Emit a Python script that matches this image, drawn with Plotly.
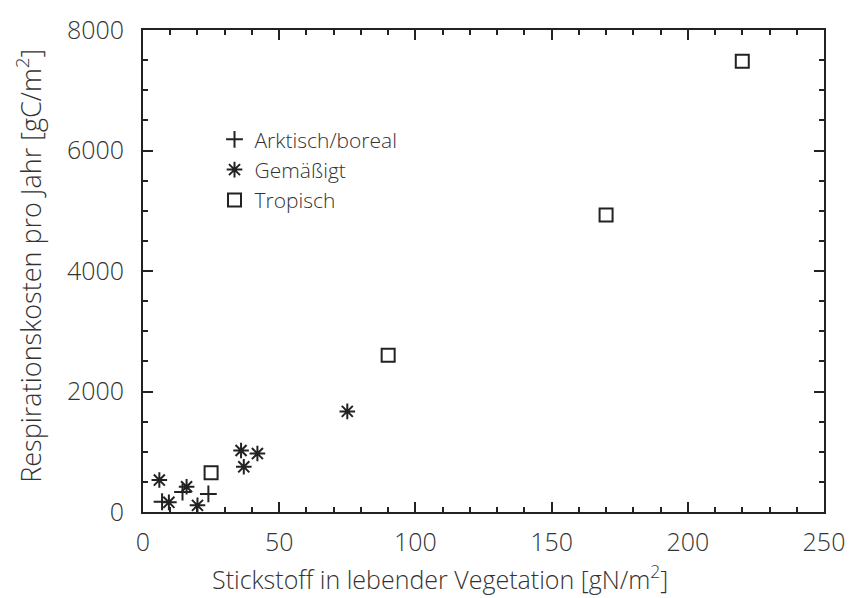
import plotly.graph_objects as go

# Stickstoff in lebender Vegetation [gN/m2] vs. jährliche Respirationskosten [gC/m2]
arktisch_n = [7, 14.5, 24]
arktisch_r = [170, 330, 300]

gemaessigt_n = [6, 9.5, 16, 20, 36, 37, 42, 75]
gemaessigt_r = [530, 160, 420, 110, 1020, 750, 970, 1670]

tropisch_n = [25, 90, 170, 220]
tropisch_r = [650, 2600, 4930, 7480]

x_ticks = [0, 50, 100, 150, 200, 250]
y_ticks = [0, 2000, 4000, 6000, 8000]

x_title = "Stickstoff in lebender Vegetation [gN/m<sup>2</sup>]"
y_title = "Respirationskosten pro Jahr [gC/m<sup>2</sup>]"

FONT = "Open Sans"
WEIGHT = 300
INK = "#222222"
TEXT = "#333333"

fig = go.Figure()
fig.add_trace(go.Scatter(
    x=arktisch_n, y=arktisch_r, mode="markers", name="Arktisch/boreal",
    marker=dict(symbol="cross-thin", size=12, color=INK, line=dict(width=2, color=INK)),
))
fig.add_trace(go.Scatter(
    x=gemaessigt_n, y=gemaessigt_r, mode="markers", name="Gemäßigt",
    marker=dict(symbol="asterisk", size=13, color=INK, line=dict(width=2, color=INK)),
))
fig.add_trace(go.Scatter(
    x=tropisch_n, y=tropisch_r, mode="markers", name="Tropisch",
    marker=dict(symbol="square-open", size=13, color=INK, line=dict(width=2, color=INK)),
))

tick_font = dict(family=FONT, size=25, color=TEXT, weight=WEIGHT)
title_font = dict(family=FONT, size=25, color=TEXT, weight=WEIGHT)

axis_common = dict(
    showgrid=False, zeroline=False, showline=True, linecolor=INK, linewidth=2,
    mirror="ticks", ticks="inside", ticklen=10, tickwidth=2, tickcolor=INK,
    tickfont=tick_font,
)

fig.update_layout(
    width=857, height=598,
    margin=dict(l=143, r=28, t=28, b=86),
    plot_bgcolor="white", paper_bgcolor="white",
    font=dict(family=FONT, color=TEXT, weight=WEIGHT),
    xaxis=dict(
        range=[0, 250], tickvals=x_ticks, ticktext=[str(v) for v in x_ticks],
        ticklabelstandoff=7,
        minor=dict(dtick=10, ticks="inside", ticklen=5, tickwidth=2, tickcolor=INK),
        **axis_common,
    ),
    yaxis=dict(
        range=[0, 8000], tickvals=y_ticks, ticktext=[str(v) for v in y_ticks],
        ticklabelstandoff=12,
        minor=dict(dtick=500, ticks="inside", ticklen=5, tickwidth=2, tickcolor=INK),
        **axis_common,
    ),
    legend=dict(
        x=0.105, y=0.815, xanchor="left", yanchor="top",
        bgcolor="rgba(0,0,0,0)", borderwidth=0,
        font=dict(family=FONT, size=21, color=TEXT, weight=WEIGHT),
        itemsizing="trace", tracegroupgap=0,
    ),
    annotations=[
        dict(text=x_title, xref="paper", yref="paper", x=0.436, y=-0.136,
             xanchor="center", yanchor="middle", showarrow=False, font=title_font),
        dict(text=y_title, xref="paper", yref="paper", x=-0.168, y=0.51,
             xanchor="center", yanchor="middle", textangle=-90, showarrow=False,
             font=dict(family=FONT, size=27, color=TEXT, weight=WEIGHT)),
    ],
)

fig.write_html("out.html")
